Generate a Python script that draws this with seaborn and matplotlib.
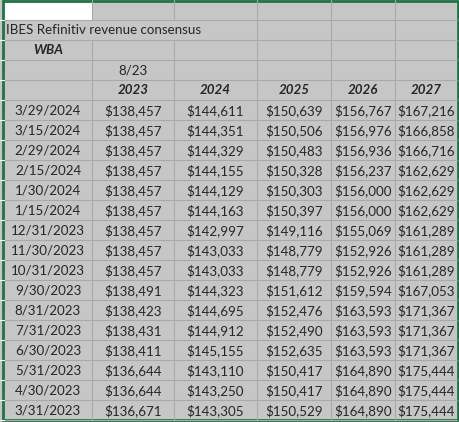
import matplotlib
matplotlib.use("Agg")
import matplotlib.pyplot as plt
import seaborn as sns
from matplotlib.patches import Rectangle

sns.set_style("white")
plt.rcParams['font.family'] = ['Lato', 'DejaVu Sans']

title = "IBES Refinitiv revenue consensus"
ticker = "WBA"
sub_label = "8/23"
years = ["2023", "2024", "2025", "2026", "2027"]
dates = ["3/29/2024", "3/15/2024", "2/29/2024", "2/15/2024", "1/30/2024", "1/15/2024",
         "12/31/2023", "11/30/2023", "10/31/2023", "9/30/2023", "8/31/2023", "7/31/2023",
         "6/30/2023", "5/31/2023", "4/30/2023", "3/31/2023"]
v2023 = [138457, 138457, 138457, 138457, 138457, 138457, 138457, 138457, 138457, 138491,
         138423, 138431, 138411, 136644, 136644, 136671]
v2024 = [144611, 144351, 144329, 144155, 144129, 144163, 142997, 143033, 143033, 144323,
         144695, 144912, 145155, 143110, 143250, 143305]
v2025 = [150639, 150506, 150483, 150328, 150303, 150397, 149116, 148779, 148779, 151612,
         152476, 152490, 152635, 150417, 150417, 150529]
v2026 = [156767, 156976, 156936, 156237, 156000, 156000, 155069, 152926, 152926, 159594,
         163593, 163593, 163593, 164890, 164890, 164890]
v2027 = [167216, 166858, 166716, 162629, 162629, 162629, 161289, 161289, 161289, 167053,
         171367, 171367, 171367, 175444, 175444, 175444]
series = [v2023, v2024, v2025, v2026, v2027]

W, H = 460, 422
fig = plt.figure(figsize=(4.6, 4.22), dpi=100)
ax = fig.add_axes([0, 0, 1, 1])
ax.set_xlim(0, W)
ax.set_ylim(H, 0)
ax.axis("off")

bg = "#c6c6c6"
grid = "#a9a9a9"
green = "#217346"
cols = [4, 92, 174, 257, 331, 395, 457]
row_h = 20
nrows = 5 + len(dates)
ax.add_patch(Rectangle((0, 0), W, H, facecolor=bg, edgecolor="none"))
ax.add_patch(Rectangle((4, 1), 88, 19, facecolor="white", edgecolor="none"))

for r in range(1, nrows + 1):
    ax.plot([4, 457], [r * row_h, r * row_h], color=grid, lw=0.8)
for i, x in enumerate(cols[1:-1], start=1):
    for r in range(nrows):
        if r == 1 and x < 257:
            continue
        ax.plot([x, x], [r * row_h, (r + 1) * row_h], color=grid, lw=0.8)
for r in range(1, nrows + 1):
    ax.plot([0, 4], [r * row_h, r * row_h], color="white", lw=0.8)
ax.add_patch(Rectangle((3, 1), 455, 419, facecolor="none", edgecolor=green, lw=2))

fs = 9.6
ax.text(6, 30.5, title, ha="left", va="center", fontsize=fs)
ax.text(48, 50.5, ticker, ha="center", va="center", fontsize=fs, fontweight="bold", style="italic")
ax.text(133, 70.5, sub_label, ha="center", va="center", fontsize=fs)
for j, y in enumerate(years):
    cx = (cols[j + 1] + cols[j + 2]) / 2
    ax.text(cx, 90.5, y, ha="center", va="center", fontsize=fs, fontweight="bold", style="italic")
for i, d in enumerate(dates):
    cy = 100 + i * row_h + 10.5
    ax.text(48, cy, d, ha="center", va="center", fontsize=fs)
    for j, s in enumerate(series):
        cx = (cols[j + 1] + cols[j + 2]) / 2
        ax.text(cx, cy, f"${s[i]:,}", ha="center", va="center", fontsize=fs)

fig.savefig("out.png", dpi=100)
